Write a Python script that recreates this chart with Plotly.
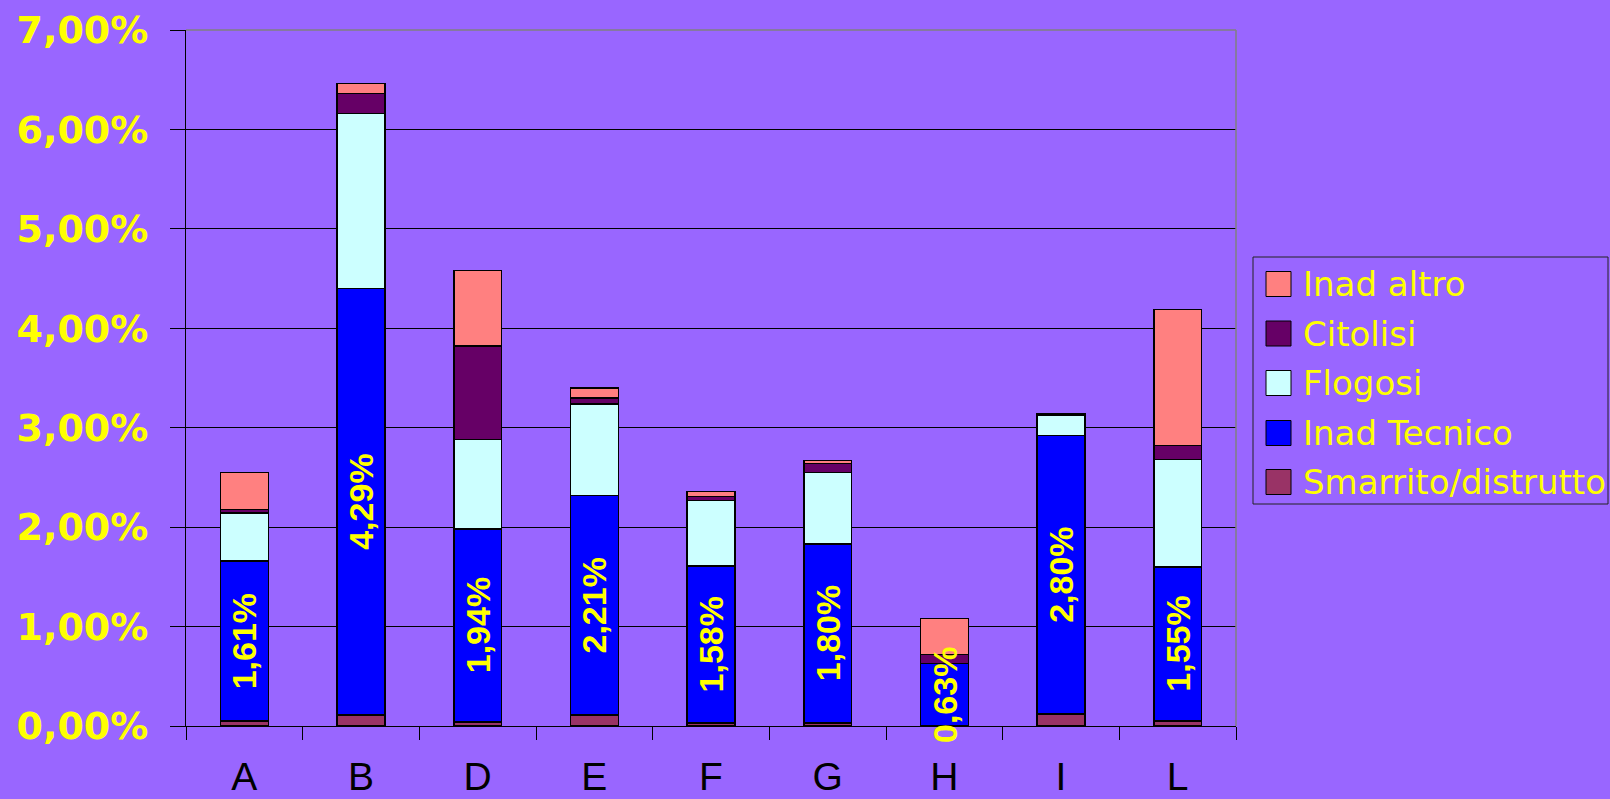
import plotly.graph_objects as go

# ---------------- data ----------------
categories = ["A", "B", "D", "E", "F", "G", "H", "I", "L"]
smarrito = [0.05, 0.11, 0.04, 0.11, 0.03, 0.03, 0.00, 0.12, 0.05]
tecnico = [1.61, 4.29, 1.94, 2.21, 1.58, 1.80, 0.63, 2.80, 1.55]
flogosi = [0.48, 1.76, 0.90, 0.92, 0.66, 0.72, 0.00, 0.21, 1.08]
citolisi = [0.04, 0.20, 0.94, 0.06, 0.04, 0.09, 0.09, 0.01, 0.14]
altro = [0.37, 0.10, 0.76, 0.10, 0.05, 0.03, 0.36, 0.00, 1.37]

series_names = ["Smarrito/distrutto", "Inad Tecnico", "Flogosi", "Citolisi", "Inad altro"]
series_values = [smarrito, tecnico, flogosi, citolisi, altro]
series_colors = ["#993366", "#0000FF", "#CCFFFF", "#660066", "#FF8080"]
y_tick_values = [0, 1, 2, 3, 4, 5, 6, 7]

# ---------------- layout constants ----------------
W, H = 1610, 799
ML, MR, MT, MB = 186, 374, 30, 73
PW, PH = W - ML - MR, H - MT - MB
BG = "#9966FF"
YELLOW = "#FFFF00"


def px_x(px):
    return (px - ML) / PW


def px_y(py):
    return (H - MB - py) / PH


fig = go.Figure()
for name, vals, col in zip(series_names, series_values, series_colors):
    fig.add_trace(go.Bar(
        x=categories,
        y=[v / 100 for v in vals],
        name=name,
        marker=dict(color=col, line=dict(color="#000000", width=1.5)),
        showlegend=False,
    ))

# rotated value labels on the "Inad Tecnico" segment
annotations = []
for c, s, t in zip(categories, smarrito, tecnico):
    annotations.append(dict(
        x=c, y=(s + t / 2) / 100, xref="x", yref="y",
        text=("%.2f%%" % t).replace(".", ","),
        textangle=-90, showarrow=False,
        font=dict(family="Liberation Sans", size=34, color=YELLOW, weight="bold"),
    ))

# manual legend (top item = last stacked series)
shapes = []
box_left, box_right, box_top, box_bottom = 1253, 1608, 257, 504
shapes.append(dict(type="rect", xref="paper", yref="paper",
                   x0=px_x(box_left), x1=px_x(box_right),
                   y0=px_y(box_bottom), y1=px_y(box_top),
                   line=dict(color="#222222", width=1), fillcolor="rgba(0,0,0,0)"))
row_centers = [284, 333.5, 383, 433, 482]
for i, (name, col) in enumerate(zip(series_names[::-1], series_colors[::-1])):
    cy = row_centers[i]
    shapes.append(dict(type="rect", xref="paper", yref="paper",
                       x0=px_x(1266), x1=px_x(1291),
                       y0=px_y(cy + 12.5), y1=px_y(cy - 12.5),
                       line=dict(color="#000000", width=1), fillcolor=col))
    annotations.append(dict(
        x=px_x(1301), y=px_y(cy), xref="paper", yref="paper",
        xanchor="left", yanchor="middle", text=name, showarrow=False,
        font=dict(family="DejaVu Sans", size=34, color=YELLOW),
    ))

# plot-area border top/right (grey)
shapes.append(dict(type="line", xref="paper", yref="paper", x0=0, x1=1, y0=1, y1=1,
                   line=dict(color="#808080", width=1.5)))
shapes.append(dict(type="line", xref="paper", yref="paper", x0=1, x1=1, y0=0, y1=1,
                   line=dict(color="#808080", width=1.5)))

fig.update_layout(
    width=W, height=H, autosize=False,
    margin=dict(l=ML, r=MR, t=MT, b=MB, pad=0, autoexpand=False),
    barmode="stack", bargap=0.59,
    paper_bgcolor=BG, plot_bgcolor=BG,
    separators=",.",
    showlegend=False,
    annotations=annotations,
    shapes=shapes,
    xaxis=dict(
        type="category", categoryorder="array", categoryarray=categories,
        automargin=False,
        showline=True, linecolor="#000000", linewidth=1,
        ticks="outside", tickson="boundaries", ticklen=13, tickcolor="#000000",
        tickfont=dict(family="Liberation Sans", size=39, color="#000000"),
        ticklabelstandoff=16,
        showgrid=False,
    ),
    yaxis=dict(
        range=[0, 0.07], tickvals=[v / 100 for v in y_tick_values], tickformat=".2%",
        automargin=False,
        showline=True, linecolor="#000000", linewidth=1,
        ticks="outside", ticklen=15, tickcolor="#000000",
        tickfont=dict(family="DejaVu Sans", size=38, color=YELLOW, weight="bold"),
        ticklabelstandoff=14,
        showgrid=True, gridcolor="#000000", gridwidth=1,
        zeroline=True, zerolinecolor="#000000", zerolinewidth=1,
    ),
)

fig.write_html("out.html")
